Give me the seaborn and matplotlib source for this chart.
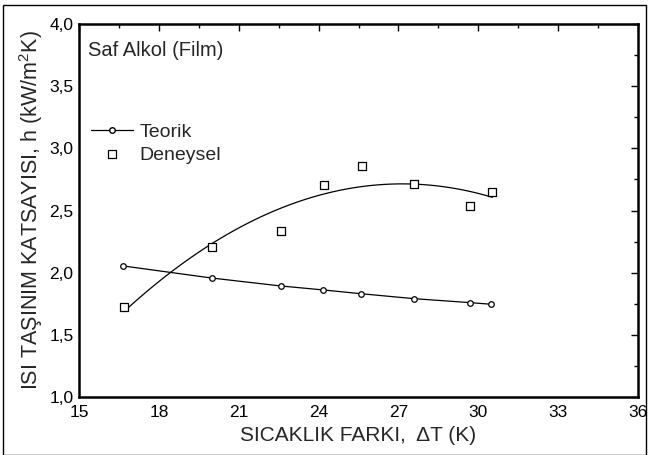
import matplotlib
matplotlib.use("Agg")
import matplotlib.pyplot as plt
import seaborn as sns
import numpy as np
import pandas as pd
from matplotlib.lines import Line2D
from matplotlib.patches import Rectangle
from matplotlib.ticker import MultipleLocator, FuncFormatter

# Data
teorik_x = [16.66, 19.98, 22.58, 24.18, 25.58, 27.58, 29.69, 30.48]
teorik_h = [2.054, 1.957, 1.893, 1.861, 1.831, 1.791, 1.759, 1.746]
deney_x = [16.69, 19.99, 22.59, 24.20, 25.62, 27.58, 29.69, 30.53]
deney_h = [1.727, 2.209, 2.332, 2.703, 2.861, 2.716, 2.539, 2.649]

sns.set_theme(style="white")
plt.rcParams['font.family'] = ['Liberation Sans', 'DejaVu Sans']

fig = plt.figure(figsize=(6.48, 4.55), dpi=100)
ax = fig.add_axes([79/648, 1-397/455, (638-79)/648, (397-24)/455])

df_t = pd.DataFrame({"x": teorik_x, "h": teorik_h})
df_d = pd.DataFrame({"x": deney_x, "h": deney_h})

sns.lineplot(data=df_t, x="x", y="h", ax=ax, color="black", lw=0.9,
             marker="o", markersize=4, markerfacecolor="white",
             markeredgecolor="black", markeredgewidth=0.9)
sns.regplot(data=df_d, x="x", y="h", ax=ax, order=2, ci=None, scatter=False,
            line_kws=dict(color="black", lw=0.9))
sns.scatterplot(data=df_d, x="x", y="h", ax=ax, marker="s", s=30,
                facecolor="white", edgecolor="black", linewidth=0.9, zorder=5)

ax.set_xlim(15, 36)
ax.set_ylim(1.0, 4.0)
ax.xaxis.set_major_locator(MultipleLocator(3))
ax.xaxis.set_minor_locator(MultipleLocator(1.5))
ax.yaxis.set_major_locator(MultipleLocator(0.5))
ax.yaxis.set_minor_locator(MultipleLocator(0.25))
ax.yaxis.set_major_formatter(FuncFormatter(lambda v, p: f"{v:.1f}".replace(".", ",")))
ax.xaxis.set_major_formatter(FuncFormatter(lambda v, p: f"{v:.0f}"))
ax.tick_params(which="both", direction="in", top=True, right=True,
               colors="black", labelsize=12.5, width=1)
ax.tick_params(which="major", length=5)
ax.tick_params(axis="x", which="major", pad=6)
ax.tick_params(axis="y", which="major", pad=4)
ax.tick_params(which="minor", length=3)
for s in ax.spines.values():
    s.set_linewidth(1.8)
    s.set_color("black")

ax.set_xlabel("SICAKLIK FARKI,  ΔT (K)", fontsize=15, labelpad=4)
ax.set_ylabel("ISI TAŞINIM KATSAYISI, h (kW/m$^\\mathregular{2}$K)", fontsize=15.5, labelpad=3)

ax.text(0.016, 0.93, "Saf Alkol (Film)", transform=ax.transAxes, fontsize=14.5,
        va="center", ha="left")

handles = [
    Line2D([], [], color="black", lw=0.9, marker="o", markersize=4,
           markerfacecolor="white", markeredgecolor="black"),
    Line2D([], [], color="none", marker="s", markersize=5.5,
           markerfacecolor="white", markeredgecolor="black", markeredgewidth=0.9),
]
ax.legend(handles, ["Teorik", "Deneysel"], loc="upper left",
          bbox_to_anchor=(0.0, 0.765), frameon=False, fontsize=14,
          numpoints=1, handlelength=2.2, handletextpad=0.3,
          labelspacing=0.3, borderaxespad=0.2)

fig.patches.append(Rectangle((3/648, 0), 643/648, 1-5/455, transform=fig.transFigure,
                             fill=False, edgecolor="black", lw=1.0))

fig.savefig("out.png", dpi=100)
